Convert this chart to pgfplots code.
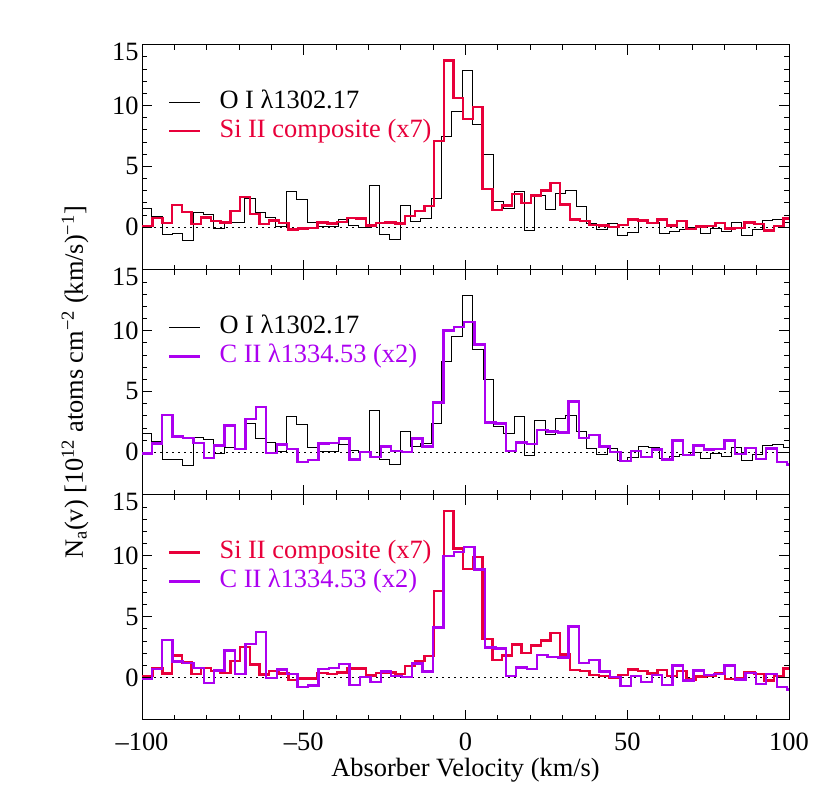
\documentclass[border=0pt]{standalone}
\usepackage{fontspec}
\setmainfont{Liberation Serif}
\usepackage{pgfplots}
\pgfplotsset{compat=1.18}
\usepackage{pgfplotstable}
\definecolor{siired}{RGB}{232,0,58}
\definecolor{ciipur}{RGB}{172,0,240}

\pgfplotstableread{
x y
-100 1.55
-97.0 0.9
-93.8 -0.6
-90.6 -0.55
-87.4 -1.1
-84.2 1.24
-81.0 1.02
-77.8 -0.1
-74.6 0.43
-71.4 0.35
-68.2 2.4
-65.0 1.18
-61.8 0.83
-58.6 0.1
-55.4 2.95
-52.2 2.32
-49.0 0.4
-45.8 0.08
-42.6 0.04
-39.4 0.65
-36.2 0.18
-33.0 0.0
-29.8 3.4
-26.6 -0.58
-23.4 -1.02
-20.2 1.75
-17.0 0.48
-13.8 0.69
-10.6 2.38
-7.4 7.45
-4.2 9.55
-1.0 12.9
2.2 8.45
5.4 6.0
8.6 2.1
11.8 1.57
15.0 2.92
18.2 -0.27
21.4 2.62
24.6 1.48
27.8 2.8
31.0 3.0
34.2 1.7
37.4 0.34
40.6 -0.2
43.8 0.34
47.0 -0.68
50.2 -0.41
53.4 0.52
56.6 0.41
59.8 -0.53
63.0 -0.33
66.2 -0.2
69.4 0.0
72.6 -0.53
75.8 -0.1
79.0 -0.33
82.2 0.41
85.4 -0.68
88.6 -0.19
91.8 0.58
95.0 0.62
98.2 0.36
100 0.36
}\oi

\pgfplotstableread{
x y
-100 0.10
-96.7 0.74
-93.7 0.33
-90.7 1.81
-87.7 1.23
-84.7 0.27
-81.7 0.79
-78.7 0.52
-75.7 0.38
-72.7 1.34
-69.7 2.49
-66.7 1.07
-63.7 0.25
-60.7 0.55
-57.7 0.33
-54.7 -0.20
-51.7 -0.10
-48.7 -0.08
-45.7 0.38
-42.7 0.30
-39.7 0.41
-36.7 0.74
-33.7 0.72
-30.7 0.15
-27.7 0.34
-24.7 0.40
-21.7 0.30
-18.7 0.92
-15.7 1.35
-12.7 1.75
-9.7 7.1
-6.7 13.7
-3.7 10.6
-0.7 8.9
2.3 9.9
5.3 3.15
8.3 1.42
11.3 1.8
14.3 2.72
17.3 2.0
20.3 2.62
23.3 3.02
26.3 3.65
29.3 1.87
32.3 0.62
35.3 0.53
38.3 0.2
41.3 0.14
44.3 0.0
47.3 0.19
50.3 0.64
53.3 0.55
56.3 0.33
59.3 0.62
62.3 0.14
65.3 0.53
68.3 -0.17
71.3 0.06
74.3 0.1
77.3 0.34
80.3 -0.12
83.3 -0.05
86.3 0.4
89.3 0.27
92.3 -0.26
95.3 0.1
98.3 0.72
100 0.72
}\siii

\pgfplotstableread{
x y
-100 -0.11
-97.0 0.71
-93.78 3.07
-90.56 1.31
-87.34 1.2
-84.12 0.76
-80.9 -0.46
-77.68 0.57
-74.46 2.2
-71.24 0.27
-68.02 2.75
-64.8 3.72
-61.58 -0.05
-58.36 0.65
-55.14 0.27
-51.92 -0.79
-48.7 -0.65
-45.48 0.71
-42.26 0.76
-39.04 1.12
-35.82 -0.6
-32.6 0.03
-29.38 -0.38
-26.16 0.49
-22.94 0.1
-19.72 0.02
-16.5 1.14
-13.28 0.49
-10.06 4.1
-6.84 10.0
-3.62 10.3
-0.4 10.7
2.82 8.87
6.04 2.46
9.26 2.37
12.48 0.12
15.7 0.8
18.92 0.7
22.14 1.82
25.36 1.7
28.58 1.64
31.8 4.18
35.02 1.17
38.24 1.44
41.46 0.49
44.68 0.03
47.9 -0.71
51.12 0.11
54.34 -0.38
57.56 0.22
60.78 -0.6
64.0 0.98
67.22 -0.24
70.44 0.57
73.66 0.22
76.88 0.27
80.1 0.98
83.32 -0.16
86.54 0.35
89.76 -0.54
92.98 0.3
96.2 -0.79
99.42 -1.0
100 -1.0
}\cii

\pgfplotsset{
  panel/.style={
    scale only axis, width=647bp, height=225.1bp,
    anchor=south west,
    xmin=-100, xmax=100, ymin=-3.5, ymax=15,
    xtick={-100,-50,0,50,100}, minor x tick num=4,
    ytick={0,5,10,15}, minor y tick num=4,
    yticklabels={0,5,10,{\raisebox{-7bp}[\height][\depth]{15}}},
    major tick length=10bp, minor tick length=5bp,
    tick style={black, line width=0.8bp},
    axis line style={black, line width=1bp},
    font=\fontsize{26.5}{31}\selectfont,
    /pgf/number format/assume math mode=true,
    xticklabel style={yshift=-9bp},
    legend cell align=left,
    legend style={draw=none, fill=none,
      at={(axis description cs:0.0402,0.68)}, anchor=west,
      inner sep=0pt, row sep=0pt, column sep=18bp,
      font=\fontsize{26.5}{31}\selectfont,
      nodes={inner xsep=0bp, inner ysep=2bp, text height=19bp, text depth=6bp}},
    legend image code/.code={\draw[##1] (0bp,0bp) -- (31bp,0bp);},
  },
  oistyle/.style={black, line width=0.9bp, const plot mark left},
  siistyle/.style={siired, line width=2.4bp, const plot mark left},
  ciistyle/.style={ciipur, line width=2.4bp, const plot mark left},
  zerostyle/.style={black, line width=1bp, dash pattern=on 1.5bp off 4.5bp, forget plot},
}

\begin{document}
\begin{tikzpicture}
\useasboundingbox (0,0) rectangle (830bp,812bp);

% top panel
\begin{axis}[panel, at={(142bp,542.2bp)}, xticklabels={}]
\addplot[zerostyle] coordinates {(-100,0) (100,0)};
\addplot[oistyle] table[x=x,y=y] {\oi};
\addlegendentry{O I λ1302.17}
\addplot[siistyle] table[x=x,y=y] {\siii};
\addlegendentry{\textcolor{siired}{Si II composite (x7)}}
\end{axis}

% middle panel
\begin{axis}[panel, at={(142bp,317.1bp)}, xticklabels={},
  ylabel={N\textsubscript{a}(v) [10\textsuperscript{12} atoms cm\textsuperscript{−2} (km/s)\textsuperscript{−1}]},
  every axis y label/.style={at={(axis description cs:-0.1035,0.5)}, rotate=90, anchor=center}]
\addplot[zerostyle] coordinates {(-100,0) (100,0)};
\addplot[oistyle] table[x=x,y=y] {\oi};
\addlegendentry{O I λ1302.17}
\addplot[ciistyle] table[x=x,y=y] {\cii};
\addlegendentry{\textcolor{ciipur}{C II λ1334.53 (x2)}}
\end{axis}

% bottom panel
\begin{axis}[panel, at={(142bp,92bp)},
  xticklabels={–100,–50,0,50,100},
  xlabel={Absorber Velocity (km/s)},
  every axis x label/.style={at={(axis description cs:0.5,-0.2488)}, anchor=base}]
\addplot[zerostyle] coordinates {(-100,0) (100,0)};
\addplot[siistyle] table[x=x,y=y] {\siii};
\addlegendentry{\textcolor{siired}{Si II composite (x7)}}
\addplot[ciistyle] table[x=x,y=y] {\cii};
\addlegendentry{\textcolor{ciipur}{C II λ1334.53 (x2)}}
\end{axis}
\end{tikzpicture}
\end{document}
